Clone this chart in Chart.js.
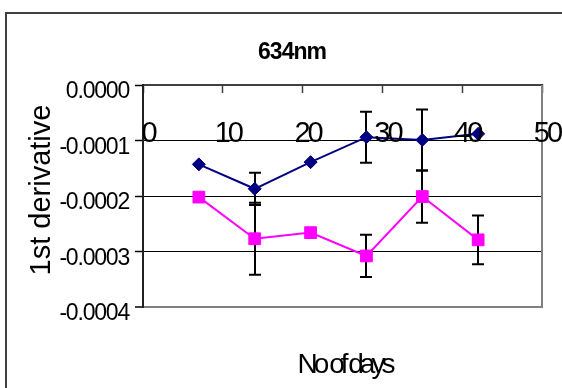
<!DOCTYPE html>
<html>
<head>
<meta charset="utf-8">
<script src="https://cdn.jsdelivr.net/npm/chart.js@4/dist/chart.umd.min.js"></script>
<style>
  html, body { margin: 0; padding: 0; background: #fff; }
  #wrap { width: 562px; height: 388px; position: relative; }
</style>
</head>
<body>
<div id="wrap"><canvas id="c"></canvas></div>
<script>
// Measurement days (x) and first-derivative readings for the two series
const days = [7, 14, 21, 28, 35, 42];
const seriesA = [-0.000143, -0.000187, -0.000139, -0.000094, -0.000099, -0.000088];
const errorsA = [null, 0.000029, null, 0.000046, 0.000055, null];
const seriesB = [-0.000202, -0.000277, -0.000266, -0.000308, -0.000201, -0.000279];
const errorsB = [null, 0.000065, null, 0.000038, 0.000047, 0.000044];

// Axis tick labels and titles
const xTickLabels = ['0', '10', '20', '30', '40', '50'];
const yTickLabels = ['0.0000', '-0.0001', '-0.0002', '-0.0003', '-0.0004'];
const chartTitle = '634nm';
const xTitle = 'No of days';
const yTitle = '1st derivative';

const X_STEP = 10;
const Y_STEP = 0.0001;
const FONT = '"Liberation Sans", Arial, sans-serif';

function text(ctx, str, x, y, font, align, spacing) {
  ctx.save();
  ctx.font = font;
  ctx.fillStyle = '#000';
  ctx.textAlign = align;
  ctx.textBaseline = 'alphabetic';
  if ('letterSpacing' in ctx) ctx.letterSpacing = spacing + 'px';
  ctx.fillText(str, x, y);
  ctx.restore();
}

// Outer frame, plot border, error bars and all the text
const decorations = {
  id: 'decorations',
  beforeDraw(chart) {
    const ctx = chart.ctx;
    ctx.save();
    ctx.fillStyle = '#fff';
    ctx.fillRect(0, 0, chart.width, chart.height);
    ctx.strokeStyle = '#404040';
    ctx.lineWidth = 2;
    ctx.strokeRect(6, 13, chart.width + 40, chart.height + 40);
    ctx.restore();
  },
  beforeDatasetsDraw(chart) {
    const ctx = chart.ctx;
    const area = chart.chartArea;
    const xs = chart.scales.x, ys = chart.scales.y;
    ctx.save();
    // right edge of the plot area
    ctx.strokeStyle = '#808080';
    ctx.lineWidth = 2;
    ctx.beginPath();
    ctx.moveTo(area.right, area.top);
    ctx.lineTo(area.right, area.bottom + 1);
    ctx.stroke();
    // error bars
    ctx.strokeStyle = '#000';
    ctx.lineWidth = 2;
    const cap = 6;
    [[seriesA, errorsA], [seriesB, errorsB]].forEach(([vals, errs]) => {
      vals.forEach((v, i) => {
        const e = errs[i];
        if (e == null) return;
        const x = Math.round(xs.getPixelForValue(days[i]));
        const y1 = ys.getPixelForValue(v + e);
        const y2 = ys.getPixelForValue(v - e);
        ctx.beginPath();
        ctx.moveTo(x, y1); ctx.lineTo(x, y2);
        ctx.moveTo(x - cap, y1); ctx.lineTo(x + cap, y1);
        ctx.moveTo(x - cap, y2); ctx.lineTo(x + cap, y2);
        ctx.stroke();
      });
    });
    ctx.restore();
  },
  afterDatasetsDraw(chart) {
    const ctx = chart.ctx;
    const area = chart.chartArea;
    const xs = chart.scales.x, ys = chart.scales.y;
    xs.ticks.forEach(t => {
      text(ctx, t.label, xs.getPixelForValue(t.value) + 5, 142, '29px ' + FONT, 'center', -3);
    });
    ys.ticks.forEach(t => {
      text(ctx, t.label, 129, ys.getPixelForValue(t.value) + 13, '23px ' + FONT, 'right', -1.2);
    });
    // title sits in a fixed-width box that trims its last glyph
    ctx.save();
    ctx.beginPath();
    ctx.rect(200, 20, 129, 50);
    ctx.clip();
    text(ctx, chartTitle, 292, 59, 'bold 23px ' + FONT, 'center', -1);
    ctx.restore();
    text(ctx, xTitle, (area.left + area.right) / 2 + 2, 373, '28px ' + FONT, 'center', -4);
    ctx.save();
    ctx.translate(50, 190);
    ctx.rotate(-Math.PI / 2);
    text(ctx, yTitle, 0, 0, '29px ' + FONT, 'center', 0);
    ctx.restore();
  }
};

new Chart(document.getElementById('c'), {
  type: 'line',
  data: {
    datasets: [
      {
        data: days.map((d, i) => ({ x: d, y: seriesA[i] })),
        borderColor: '#000080',
        backgroundColor: '#000080',
        borderWidth: 2,
        pointStyle: 'rectRot',
        pointRadius: 6.5,
        pointBorderWidth: 1,
        tension: 0
      },
      {
        data: days.map((d, i) => ({ x: d, y: seriesB[i] })),
        borderColor: '#FF00FF',
        backgroundColor: '#FF00FF',
        borderWidth: 2,
        pointStyle: 'rect',
        pointRadius: 8.3,
        pointBorderWidth: 1,
        tension: 0
      }
    ]
  },
  options: {
    responsive: true,
    maintainAspectRatio: false,
    devicePixelRatio: 1,
    animation: false,
    events: [],
    layout: { padding: { left: 143, top: 85, right: 20, bottom: 81 } },
    plugins: { legend: { display: false }, tooltip: { enabled: false }, title: { display: false } },
    scales: {
      x: {
        type: 'linear',
        position: 'top',
        min: 0,
        max: 50,
        ticks: { stepSize: X_STEP, display: false, callback: v => xTickLabels[Math.round(v / X_STEP)] },
        grid: { drawOnChartArea: false, drawTicks: true, tickLength: -8, tickColor: '#404040', tickWidth: 1.5 },
        border: { display: true, color: '#404040', width: 2 },
        afterFit(s) { s.height = 0; }
      },
      y: {
        type: 'linear',
        position: 'left',
        min: -0.0004,
        max: 0,
        ticks: { stepSize: Y_STEP, display: false, callback: v => yTickLabels[Math.round(-v / Y_STEP)] },
        grid: {
          drawTicks: true,
          tickLength: 8,
          tickColor: '#000',
          tickWidth: 1.5,
          color: c => {
            const k = Math.round(-c.tick.value / Y_STEP);
            if (k === 0) return 'rgba(0,0,0,0)';
            if (k === 4) return '#808080';
            return '#000';
          },
          lineWidth: c => (Math.round(-c.tick.value / Y_STEP) === 4 ? 2 : 1)
        },
        border: { display: true, color: '#202020', width: 2 },
        afterFit(s) { s.width = 0; }
      }
    }
  },
  plugins: [decorations]
});
</script>
</body>
</html>
